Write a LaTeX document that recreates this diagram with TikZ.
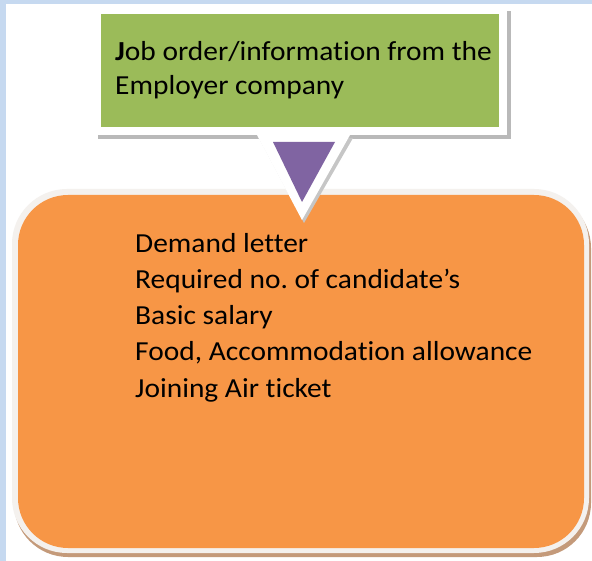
\documentclass[tikz,border=0pt]{standalone}
\usepackage{fontspec}
\setmainfont{Carlito}[Ligatures=NoCommon]
\definecolor{bluebg}{HTML}{C6D9F0}
\definecolor{greenbox}{HTML}{9BBB59}
\definecolor{purpletri}{HTML}{8064A2}
\definecolor{orangebox}{HTML}{F79646}
\definecolor{brownshadow}{HTML}{C49A7A}
\definecolor{frameline}{HTML}{F4F1EE}
\tikzset{
  linetext/.style={inner sep=0pt, anchor=base west, text=black, xscale=1.07,
    font=\fontsize{27.5}{33}\selectfont},
}
\begin{document}
\begin{tikzpicture}[x=1pt,y=-1pt]
\useasboundingbox (0,0) rectangle (592,561);
\fill[white] (0,0) rectangle (592,561);
\fill[bluebg] (0,0) rectangle (592,4);
\fill[bluebg] (0,0) rectangle (6,561);
% orange box
\fill[brownshadow] (14,194) [rounded corners=54pt] rectangle (591,557);
\fill[frameline] (12,189) [rounded corners=55pt] rectangle (589,553);
\fill[orangebox] (18,195) [rounded corners=50pt] rectangle (584,548);
\node[linetext] (l1) at (135,253) {Demand letter};
\node[linetext] (l2) at (135,289) {Required no.\ of candidate’s};
\node[linetext] (l3) at (135,325) {Basic salary};
\node[linetext] (l4) at (135,361) {Food, Accommodation allowance};
\node[linetext] (l5) at (135,397) {Joining Air ticket};
% green box
\fill[gray!55] (98,11) rectangle (511,139);
\fill[white] (95,7) rectangle (507,135);
\fill[greenbox] (101,14) rectangle (499,127);
\node[linetext] (g1) at (115,61) {\textbf{J}ob order/information from the};
\node[linetext] (g2) at (115,95) {Employer company};
% triangle
\fill[gray!45] (259,138) -- (353,138) -- (304,223) -- cycle;
\fill[white] (257,135) -- (350,135) -- (302,220) -- cycle;
\fill[purpletri] (273,142) -- (335,142) -- (302,202) -- cycle;
\end{tikzpicture}
\end{document}
